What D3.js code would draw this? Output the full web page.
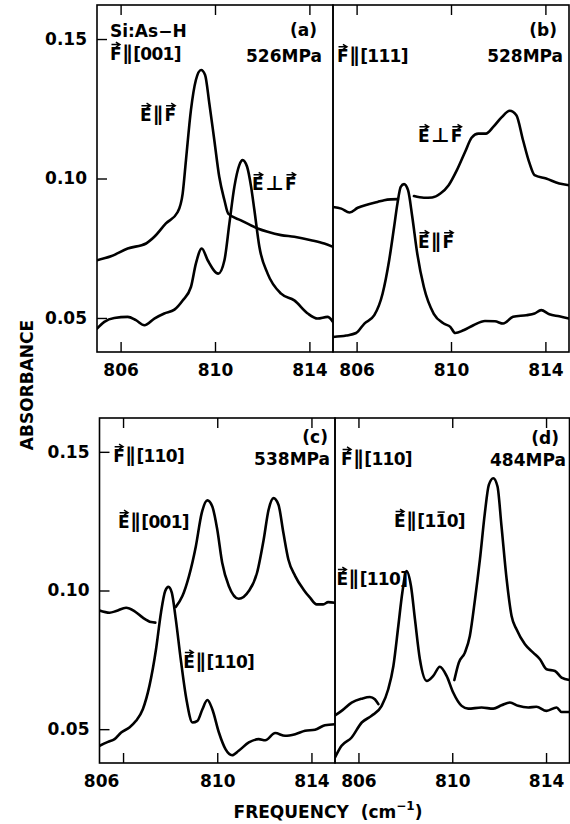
<!DOCTYPE html>
<html>
<head>
<meta charset="utf-8">
<script src="https://cdn.jsdelivr.net/npm/d3@7"></script>
<style>
  body { margin: 0; background: #fff; }
  svg { display: block; font-family: "DejaVu Sans", sans-serif; }
  .frame { fill: none; stroke: #000; stroke-width: 1.6; }
  .trace { fill: none; stroke: #000; stroke-width: 2.6; stroke-linejoin: round; stroke-linecap: round; }
  .tick line { stroke: #000; stroke-width: 1.4; }
  .tick text { font-size: 17px; font-weight: bold; fill: #000; font-family: "DejaVu Sans", sans-serif; }
  .note { font-size: 17px; font-weight: bold; fill: #000; }
  .note.tight { letter-spacing: -0.7px; }
  .mark { fill: none; stroke: #000; stroke-width: 1.5; }
  .title { font-size: 17px; font-weight: bold; fill: #000; }
</style>
</head>
<body>
<svg id="chart" width="570" height="824"></svg>
<script>
// tick values
const freqTicks = [806, 810, 814];
const absTicks = [0.05, 0.10, 0.15];
const absTickLabels = ["0.05", "0.10", "0.15"];

// traces: [frequency (cm-1), absorbance]; null = pen lifted
const aParallel = [[805.0,0.0707],[805.59,0.0721],[806.30,0.0749],[807.08,0.0767],[807.43,0.0791],[807.92,0.0839],[808.42,0.0880],[808.63,0.0946],[808.77,0.1066],[808.98,0.1245],[809.19,0.1353],[809.41,0.1389],[809.58,0.1371],[809.76,0.1269],[809.97,0.1138],[810.18,0.1006],[810.40,0.0922],[810.56,0.0874],[811.10,0.0850],[811.81,0.0821],[812.23,0.0809],[812.80,0.0797],[813.36,0.0791],[814.07,0.0779],[814.63,0.0767],[815.0,0.0755]];
const aPerp = [[805.0,0.0462],[805.31,0.0486],[805.73,0.0500],[806.30,0.0504],[806.65,0.0492],[807.01,0.0474],[807.43,0.0498],[807.85,0.0516],[808.28,0.0530],[808.63,0.0563],[808.98,0.0611],[809.19,0.0695],[809.44,0.0749],[809.69,0.0707],[810.14,0.0659],[810.40,0.0707],[810.61,0.0839],[810.82,0.0970],[811.03,0.1048],[811.17,0.1066],[811.36,0.1042],[811.53,0.0970],[811.67,0.0886],[811.88,0.0755],[812.23,0.0659],[812.80,0.0587],[813.36,0.0563],[813.93,0.0516],[814.35,0.0498],[814.77,0.0504],[815.0,0.0486]];

const bPerp = [[805.0,0.0898],[805.35,0.0892],[805.70,0.0878],[806.05,0.0895],[806.47,0.0907],[806.89,0.0916],[807.17,0.0922],[807.45,0.0925],[807.75,0.0926],[808.1,null],[808.43,0.0937],[808.85,0.0931],[809.20,0.0932],[809.55,0.0946],[809.90,0.0976],[810.25,0.1030],[810.60,0.1096],[810.88,0.1147],[811.16,0.1161],[811.48,0.1161],[811.79,0.1185],[812.14,0.1219],[812.49,0.1243],[812.77,0.1227],[813.05,0.1138],[813.33,0.1054],[813.54,0.1012],[814.03,0.1000],[814.59,0.0982],[815.0,0.0976]];
const bParallel = [[805.0,0.0432],[805.56,0.0437],[805.98,0.0446],[806.33,0.0480],[806.75,0.0510],[807.10,0.0587],[807.38,0.0707],[807.59,0.0827],[807.73,0.0910],[807.87,0.0970],[808.01,0.0980],[808.18,0.0958],[808.36,0.0862],[808.57,0.0731],[808.85,0.0611],[809.27,0.0515],[809.69,0.0480],[809.97,0.0468],[810.18,0.0446],[810.53,0.0456],[810.95,0.0474],[811.44,0.0489],[811.86,0.0488],[812.21,0.0480],[812.63,0.0504],[813.19,0.0510],[813.54,0.0516],[813.82,0.0528],[814.17,0.0513],[814.59,0.0506],[815.0,0.0498]];

const cE001 = [[805.0,0.0928],[805.43,0.0920],[805.71,0.0926],[806.13,0.0938],[806.48,0.0926],[806.84,0.0902],[807.19,0.0886],[807.37,0.0884],[807.8,null],[808.24,0.0941],[808.52,0.0980],[808.80,0.1052],[809.09,0.1159],[809.34,0.1279],[809.58,0.1325],[809.79,0.1303],[810.00,0.1220],[810.21,0.1100],[810.49,0.1016],[810.91,0.0970],[811.34,0.0998],[811.69,0.1064],[811.97,0.1183],[812.18,0.1291],[812.39,0.1333],[812.60,0.1309],[812.81,0.1207],[813.02,0.1112],[813.31,0.1052],[813.66,0.1004],[813.94,0.0974],[814.22,0.0950],[814.50,0.0950],[814.71,0.0958],[815.0,0.0956]];
const cE110 = [[805.0,0.0440],[805.36,0.0454],[805.64,0.0464],[805.92,0.0488],[806.27,0.0506],[806.55,0.0530],[806.84,0.0572],[807.12,0.0656],[807.40,0.0788],[807.61,0.0920],[807.79,0.0998],[807.93,0.1013],[808.07,0.0992],[808.24,0.0896],[808.45,0.0752],[808.69,0.0608],[808.95,0.0524],[809.16,0.0530],[809.37,0.0572],[809.58,0.0605],[809.79,0.0572],[810.07,0.0488],[810.35,0.0428],[810.63,0.0406],[810.91,0.0422],[811.34,0.0452],[811.76,0.0464],[812.04,0.0460],[812.46,0.0486],[812.88,0.0476],[813.31,0.0482],[813.73,0.0494],[814.15,0.0498],[814.57,0.0514],[815.0,0.0518]];

const dE110 = [[805.0,0.0398],[805.28,0.0440],[805.71,0.0470],[806.14,0.0524],[806.56,0.0548],[806.99,0.0584],[807.27,0.0644],[807.49,0.0728],[807.70,0.0872],[807.87,0.0992],[808.05,0.1070],[808.24,0.1016],[808.41,0.0896],[808.62,0.0752],[808.91,0.0674],[809.19,0.0692],[809.47,0.0725],[809.76,0.0692],[810.04,0.0632],[810.40,0.0584],[810.68,0.0574],[811.25,0.0578],[811.75,0.0574],[812.10,0.0586],[812.46,0.0596],[812.81,0.0584],[813.24,0.0578],[813.59,0.0581],[814.02,0.0566],[814.45,0.0578],[814.66,0.0562],[815.0,0.0562]];
const dE1m10 = [[805.0,0.0550],[805.28,0.0566],[805.71,0.0596],[806.14,0.0610],[806.49,0.0616],[806.70,0.0608],[806.85,0.0590],[808.5,null],[810.09,0.0677],[810.28,0.0740],[810.54,0.0776],[810.75,0.0836],[810.97,0.0968],[811.18,0.1112],[811.39,0.1279],[811.56,0.1381],[811.75,0.1405],[811.93,0.1375],[812.10,0.1232],[812.32,0.1040],[812.53,0.0908],[812.74,0.0860],[813.10,0.0806],[813.45,0.0776],[813.74,0.0752],[814.02,0.0716],[814.38,0.0710],[814.66,0.0686],[815.0,0.0677]];

// in-panel text, placed in data units; arrow = indices of letters carrying a vector arrow, bar = overbar
const notesA = [
  { text: "Si:As\u2212H", f: 805.55, v: 0.1509 },
  { text: "F\u2225[001]", f: 805.55, v: 0.1425, arrow: [0] },
  { text: "(a)", f: 814.32, v: 0.1510, anchor: "end" },
  { text: "526MPa", f: 814.53, v: 0.1417, anchor: "end" },
  { text: "E\u2225F", f: 806.82, v: 0.1206, arrow: [0, 2] },
  { text: "E\u22a5F", f: 811.57, v: 0.0958, arrow: [0, 2] }
];
const notesB = [
  { text: "(b)", f: 814.49, v: 0.1510, anchor: "end" },
  { text: "F\u2225[111]", f: 805.17, v: 0.1417, arrow: [0] },
  { text: "528MPa", f: 814.75, v: 0.1417, anchor: "end" },
  { text: "E\u22a5F", f: 808.60, v: 0.1130, arrow: [0, 2] },
  { text: "E\u2225F", f: 808.60, v: 0.0750, arrow: [0, 2] }
];
const notesC = [
  { text: "F\u2225[110]", f: 805.58, v: 0.1463, arrow: [0] },
  { text: "(c)", f: 814.70, v: 0.1532, anchor: "end" },
  { text: "538MPa", f: 814.79, v: 0.1452, anchor: "end" },
  { text: "E\u2225[001]", f: 805.79, v: 0.1225, arrow: [0] },
  { text: "E\u2225[110]", f: 808.56, v: 0.0721, arrow: [0] }
];
const notesD = [
  { text: "F\u2225[110]", f: 805.26, v: 0.1453, arrow: [0] },
  { text: "(d)", f: 814.55, v: 0.1530, anchor: "end" },
  { text: "484MPa", f: 814.85, v: 0.1450, anchor: "end" },
  { text: "E\u2225[110]", f: 807.52, v: 0.1229, arrow: [0], bar: [4] },
  { text: "E\u2225[110]", f: 805.06, v: 0.1020, arrow: [0] }
];

const svg = d3.select("#chart");
const fDomain = [805, 815];
const aDomain = [0.0378, 0.1622];
const rows = [{ top: 5, bottom: 352 }, { top: 418, bottom: 763 }];

const panels = [
  { id: "a", row: 0, x0: 97, x1: 333, left: true, traces: [aParallel, aPerp], notes: notesA },
  { id: "b", row: 0, x0: 333, x1: 569, left: false, traces: [bPerp, bParallel], notes: notesB },
  { id: "c", row: 1, x0: 99.5, x1: 335, left: true, traces: [cE001, cE110], notes: notesC },
  { id: "d", row: 1, x0: 335, x1: 569.5, left: false, traces: [dE110, dE1m10], notes: notesD }
];

const capH = 0.73 * 17;
const isRel = c => c === "\u2225" || c === "\u22a5";

panels.forEach(p => {
  const r = rows[p.row];
  const x = d3.scaleLinear().domain(fDomain).range([p.x0, p.x1]);
  const y = d3.scaleLinear().domain(aDomain).range([r.bottom, r.top]);
  const g = svg.append("g");

  g.append("clipPath").attr("id", "clip-" + p.id)
    .append("rect")
    .attr("x", p.x0).attr("y", r.top)
    .attr("width", p.x1 - p.x0).attr("height", r.bottom - r.top);

  // axes, ticks pointing inward
  const bottomAxis = g.append("g")
    .attr("transform", `translate(0,${r.bottom})`)
    .call(d3.axisBottom(x).tickValues(freqTicks).tickSize(-10).tickPadding(12).tickFormat(d3.format("d")));
  bottomAxis.select(".domain").remove();
  if (p.id === "c") bottomAxis.selectAll(".tick text").filter(d => d === 806).attr("dx", -22);

  g.append("g")
    .attr("transform", `translate(0,${r.top})`)
    .call(d3.axisTop(x).tickValues(freqTicks).tickSize(-10).tickFormat(""))
    .call(s => s.select(".domain").remove());

  if (p.left) {
    g.append("g")
      .attr("transform", `translate(${p.x0},0)`)
      .call(d3.axisLeft(y).tickValues(absTicks).tickSize(-10).tickPadding(10)
        .tickFormat((d, i) => absTickLabels[i]))
      .call(s => s.select(".domain").remove());
  }

  const line = d3.line()
    .defined(d => d[1] != null)
    .x(d => x(d[0]))
    .y(d => y(d[1]))
    .curve(d3.curveMonotoneX);

  g.append("g").attr("clip-path", `url(#clip-${p.id})`)
    .selectAll("path")
    .data(p.traces)
    .join("path")
    .attr("class", "trace")
    .attr("d", line);

  g.append("rect")
    .attr("class", "frame")
    .attr("x", p.x0).attr("y", r.top)
    .attr("width", p.x1 - p.x0).attr("height", r.bottom - r.top);

  p.notes.forEach(n => {
    const bx = x(n.f), by = y(n.v);
    const chars = Array.from(n.text);
    const t = g.append("text")
      .attr("class", n.text.includes("[") ? "note tight" : "note")
      .attr("x", bx).attr("y", by)
      .attr("text-anchor", n.anchor || "start");
    // the relation signs are set a little larger and looser, as in the figure
    t.selectAll("tspan")
      .data(chars)
      .join("tspan")
      .attr("font-size", c => isRel(c) ? 20 : null)
      .attr("dx", (c, i) => isRel(c) || (i > 0 && isRel(chars[i - 1])) ? 1.5 : null)
      .text(c => c);
    const node = t.node();
    (n.arrow || []).forEach(i => {
      const e = node.getExtentOfChar(i);
      const ya = by - capH - 3;
      const xa = e.x + 1.5, xb = e.x + e.width - 1;
      g.append("path").attr("class", "mark")
        .attr("d", `M${xa},${ya}L${xb},${ya}M${xb - 4},${ya - 2.5}L${xb},${ya}L${xb - 4},${ya + 2.5}`);
    });
    (n.bar || []).forEach(i => {
      const e = node.getExtentOfChar(i);
      const ya = by - capH - 2.5;
      g.append("path").attr("class", "mark")
        .attr("d", `M${e.x + 2},${ya}L${e.x + e.width - 2},${ya}`);
    });
  });
});

// axis titles
svg.append("text")
  .attr("class", "title")
  .attr("transform", "translate(33,385) rotate(-90)")
  .attr("text-anchor", "middle")
  .text("ABSORBANCE");

const xt = svg.append("text")
  .attr("class", "title")
  .attr("x", 328).attr("y", 818)
  .attr("text-anchor", "middle");
xt.append("tspan").text("FREQUENCY");
xt.append("tspan").attr("dx", 12).text("(cm");
xt.append("tspan").attr("dy", -8).attr("font-size", 12).text("\u22121");
xt.append("tspan").attr("dy", 8).text(")");
</script>
</body>
</html>
